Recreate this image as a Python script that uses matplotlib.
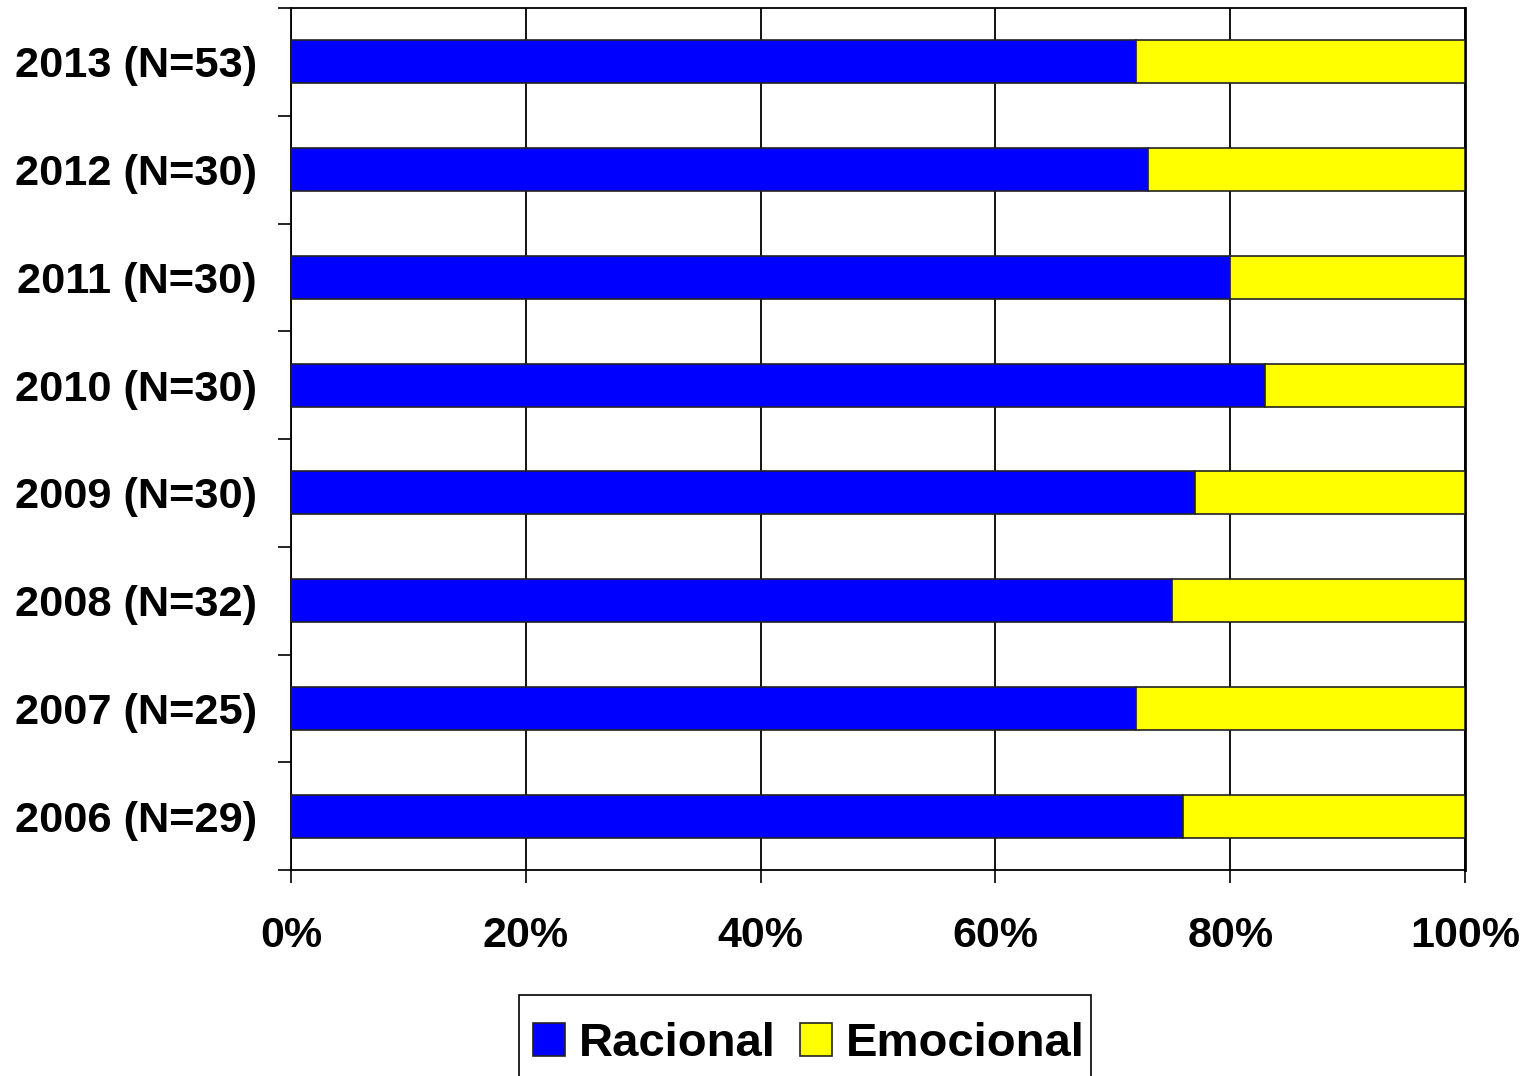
import matplotlib
matplotlib.use("Agg")
import matplotlib.pyplot as plt
import numpy as np
from matplotlib.ticker import FixedLocator, PercentFormatter
from matplotlib.patches import Rectangle

categories = ["2006 (N=29)", "2007 (N=25)", "2008 (N=32)", "2009 (N=30)",
              "2010 (N=30)", "2011 (N=30)", "2012 (N=30)", "2013 (N=53)"]
racional = [76, 72, 75, 77, 83, 80, 73, 72]
emocional = [24, 28, 25, 23, 17, 20, 27, 28]
xticks = [0, 20, 40, 60, 80, 100]

plt.rcParams['font.family'] = ['Liberation Sans', 'DejaVu Sans']
plt.rcParams['font.weight'] = 'bold'

W, H = 1534, 1076
fig = plt.figure(figsize=(W/100, H/100), dpi=100)
ax = fig.add_axes([291/W, 1-870/H, (1465-291)/W, (870-8)/H])

y = np.arange(len(categories))
h = 0.40
ax.barh(y, racional, height=h, color='#0000FF', edgecolor='#222222', linewidth=1.2, label='Racional', zorder=3)
ax.barh(y, emocional, left=racional, height=h, color='#FFFF00', edgecolor='#222222', linewidth=1.2, label='Emocional', zorder=3)

ax.set_xlim(0, 100)
ax.set_ylim(-0.5, len(categories) - 0.5)
ax.set_yticks(y)
ax.set_yticklabels(categories)
ax.yaxis.set_minor_locator(FixedLocator(np.arange(-0.5, len(categories), 1.0)))
ax.tick_params(axis='y', which='major', length=0, pad=24.5, labelsize=31.2)
ax.tick_params(axis='y', which='minor', length=9.4, width=1.2, direction='out')
ax.set_xticks(xticks)
ax.xaxis.set_major_formatter(PercentFormatter(decimals=0))
ax.tick_params(axis='x', which='major', length=9.4, width=1.2, direction='out', pad=24, labelsize=31)
for lab in ax.get_xticklabels() + ax.get_yticklabels():
    lab.set_fontweight('bold')

ax.grid(axis='x', color='black', linewidth=1.3, zorder=0)
for s in ax.spines.values():
    s.set_color('black')
    s.set_linewidth(1.3)
ax.spines['right'].set_linewidth(2)

leg = fig.legend(loc='center', bbox_to_anchor=(809/W, 1-1044/H), ncol=2,
                 fontsize=34, frameon=False,
                 handlelength=0.68, handleheight=0.68, handletextpad=0.3, columnspacing=0.5,
                 borderpad=0, borderaxespad=0)
for t in leg.get_texts():
    t.set_fontweight('bold')

# legend frame (extends past bottom edge, as in the reference)
fig.patches.append(Rectangle((519/W, 1-1090/H), (1091-519)/W, (1090-995)/H,
                             transform=fig.transFigure, fill=False,
                             edgecolor='black', linewidth=1.2, zorder=0))

fig.savefig('out.png', dpi=100)
